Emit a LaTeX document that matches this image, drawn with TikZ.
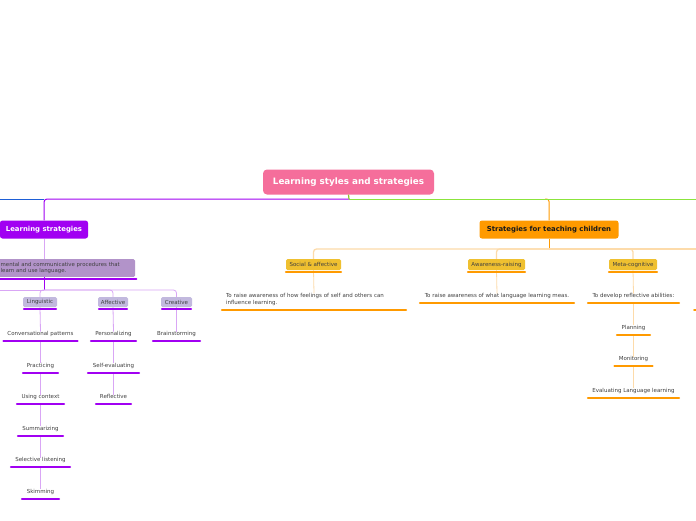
\documentclass[tikz,border=0pt]{standalone}
\usepackage{fontspec}
\setmainfont{DejaVu Sans}
\definecolor{cpink}{HTML}{F56E9B}
\definecolor{cpurple}{HTML}{A100F2}
\definecolor{clpurple}{HTML}{D9A6F5}
\definecolor{clav}{HTML}{B293C9}
\definecolor{csmall}{HTML}{C2B9DE}
\definecolor{cblue}{HTML}{1E5FD6}
\definecolor{cgreen}{HTML}{8BE43C}
\definecolor{corange}{HTML}{FF9A00}
\definecolor{cyellow}{HTML}{EFC030}
\definecolor{clorange}{HTML}{FDDBAA}
\definecolor{ctxt}{HTML}{404040}
\begin{document}
\begin{tikzpicture}[x=1pt,y=-1pt,
  smallfont/.style={font=\fontsize{5.5}{7}\selectfont},
  rootbox/.style={rectangle, rounded corners=4pt, fill=cpink, minimum width=171pt, minimum height=25pt, inner sep=0pt, text=white, font=\bfseries\fontsize{8.8}{10}\selectfont},
  mainbox/.style={rectangle, rounded corners=2.5pt, minimum height=18pt, inner sep=0pt, font=\bfseries\fontsize{6.9}{8}\selectfont},
  pbox/.style={rectangle, rounded corners=1.5pt, fill=csmall, minimum height=10pt, inner sep=0pt, text=ctxt, smallfont},
  ybox/.style={rectangle, rounded corners=1.5pt, fill=cyellow, minimum height=11pt, inner sep=0pt, text=ctxt, smallfont},
  tn/.style={smallfont, text=ctxt, inner xsep=0pt, inner ysep=0pt, text height=4pt, text depth=5.4pt, anchor=south, align=center},
  ulP/.style={draw=cpurple, line width=2pt, line cap=round},
  ulO/.style={draw=corange, line width=2pt, line cap=round},
  lp/.style={draw=clpurple, line width=0.8pt},
  lo/.style={draw=clorange, line width=0.8pt},
]
\useasboundingbox (0,0) rectangle (696,520);
\fill[white] (0,0) rectangle (696,520);

% nodes
\node[rootbox] (root) at (348.5,182) {Learning styles and strategies};
\node[mainbox, fill=cpurple, text=white, minimum width=88pt] (ls) at (44,229.5) {Learning strategies};
\node[mainbox, fill=corange, text=black!90, minimum width=139pt] (stc) at (549,229.5) {Strategies for teaching children};

\node[rectangle, rounded corners=1.5pt, fill=clav, anchor=north west, inner xsep=5pt, inner ysep=0pt,
      minimum height=17.7pt, text width=129.5pt, align=left, text=ctxt,
      font=\fontsize{5.4}{6.3}\selectfont] (def) at (-4.5,259)
      {mental and communicative procedures that\\learn and use language.};

\node[pbox, minimum width=34pt] (ling) at (40,302) {Linguistic};
\node[pbox, minimum width=30pt] (aff) at (113,302) {Affective};
\node[pbox, minimum width=31pt] (cre) at (176.5,302) {Creative};

\node[tn, minimum width=74pt] (conv) at (40.5,341.3) {Conversational patterns};
\node[tn, minimum width=35pt] (prac) at (40.5,373) {Practicing};
\node[tn, minimum width=47pt] (ctx) at (40.5,404.3) {Using context};
\node[tn, minimum width=45pt] (summ) at (40.5,435.7) {Summarizing};
\node[tn, minimum width=59pt] (sel) at (40.5,467.3) {Selective listening};
\node[tn, minimum width=37pt] (skim) at (40.5,499) {Skimming};

\node[tn, minimum width=45pt] (pers) at (113.5,341.3) {Personalizing};
\node[tn, minimum width=51pt] (self) at (113.5,373) {Self-evaluating};
\node[tn, minimum width=35pt] (refl) at (113.5,404.3) {Reflective};

\node[tn, minimum width=47pt] (brain) at (176.5,341.3) {Brainstorming};

\node[ybox, minimum width=55pt] (soc) at (313.5,264.5) {Social \& affective};
\node[ybox, minimum width=57pt] (aware) at (496.5,264.5) {Awareness-raising};
\node[ybox, minimum width=48pt] (meta) at (633,264.5) {Meta-cognitive};

\node[smallfont, text=ctxt, inner xsep=4pt, inner ysep=0pt, text width=176pt, align=left,
      font=\fontsize{5.5}{7}\selectfont, anchor=south] (soct) at (314,306)
      {To raise awareness of how feelings of self and others can\\influence learning.};
\node[tn, minimum width=154pt] (awt) at (497,303.3) {To raise awareness of what language learning meas.};
\node[tn, minimum width=91pt] (metat) at (633.5,303.3) {To develop reflective abilities:};
\node[tn, minimum width=33pt] (plan) at (633.5,334.7) {Planning};
\node[tn, minimum width=38pt] (mon) at (633.5,366.3) {Monitoring};
\node[tn, minimum width=91pt] (eval) at (633.5,397.7) {Evaluating Language learning};

% coordinates
\coordinate (h0) at (349,199);
\coordinate (h1) at (545,199);
\coordinate (offL) at (-20,199);
\coordinate (offR) at (730,199);
\coordinate (j1) at (44,290);
\coordinate (j1off) at (-20,290);
\coordinate (j2) at (549,249);
\coordinate (j2off) at (730,249);
\coordinate (edgeA) at (694,310);
\coordinate (edgeB) at (730,310);

% top connectors
\draw[cpurple, line width=1pt, rounded corners=3pt] (h0) -| (ls.north);
\draw[cblue, line width=1pt] (ls.north |- h0) -- (offL);
\draw[corange, line width=1pt, rounded corners=2.5pt] (h1) -| (stc.north);
\draw[cgreen, line width=1pt] (h0) -- (offR);
\draw[cgreen!70!olive, line width=1.2pt] (root.south) -- (h0);

% left branch
\draw[lp] (ls.south) -- (ls.south |- def.north);
\draw[cpurple, line width=1pt] (ls.south |- def.south) -- (j1);
\draw[lp, rounded corners=3pt] (j1) -| (ling.north);
\draw[lp, rounded corners=3pt] (j1) -| (aff.north);
\draw[lp, rounded corners=3pt] (j1) -| (cre.north);
\draw[lp] (j1) -- (j1off);
\draw[lp] (ling.south) -- (conv.north);
\draw[lp] (conv.south) -- (prac.north);
\draw[lp] (prac.south) -- (ctx.north);
\draw[lp] (ctx.south) -- (summ.north);
\draw[lp] (summ.south) -- (sel.north);
\draw[lp] (sel.south) -- (skim.north);
\draw[lp] (aff.south) -- (pers.north);
\draw[lp] (pers.south) -- (self.north);
\draw[lp] (self.south) -- (refl.north);
\draw[lp] (cre.south) -- (brain.north);

% right branch
\draw[corange, line width=1pt] (stc.south) -- (j2);
\draw[lo, line width=1.3pt, rounded corners=3pt] (j2) -| (soc.north);
\draw[lo, line width=1.3pt, rounded corners=3pt] (j2) -| (aware.north);
\draw[lo, line width=1.3pt, rounded corners=3pt] (j2) -| (meta.north);
\draw[lo, line width=1.3pt] (j2) -- (j2off);
\draw[lo] (soc.south) -- (soct.north);
\draw[lo] (aware.south) -- (awt.north);
\draw[lo] (meta.south) -- (metat.north);
\draw[lo] (metat.south) -- (plan.north);
\draw[lo] (plan.south) -- (mon.north);
\draw[lo] (mon.south) -- (eval.north);

% underlines
\draw[ulP] ([yshift=-1.5pt]def.south west) -- ([yshift=-1.5pt,xshift=1pt]def.south east);
\foreach \n in {ling,aff,cre}
  \draw[ulP] ([yshift=-2pt,xshift=1pt]\n.south west) -- ([yshift=-2pt,xshift=-1pt]\n.south east);
\foreach \n in {conv,prac,ctx,summ,sel,skim,pers,self,refl,brain}
  \draw[ulP] (\n.south west) -- (\n.south east);
\foreach \n in {soc,aware,meta}
  \draw[ulO] ([yshift=-1.5pt]\n.south west) -- ([yshift=-1.5pt]\n.south east);
\draw[ulO] ([yshift=-4pt]soct.south west) -- ([yshift=-4pt]soct.south east);
\foreach \n in {awt,metat,plan,mon,eval}
  \draw[ulO] (\n.south west) -- (\n.south east);
\draw[ulO] (edgeA) -- (edgeB);
\end{tikzpicture}
\end{document}
